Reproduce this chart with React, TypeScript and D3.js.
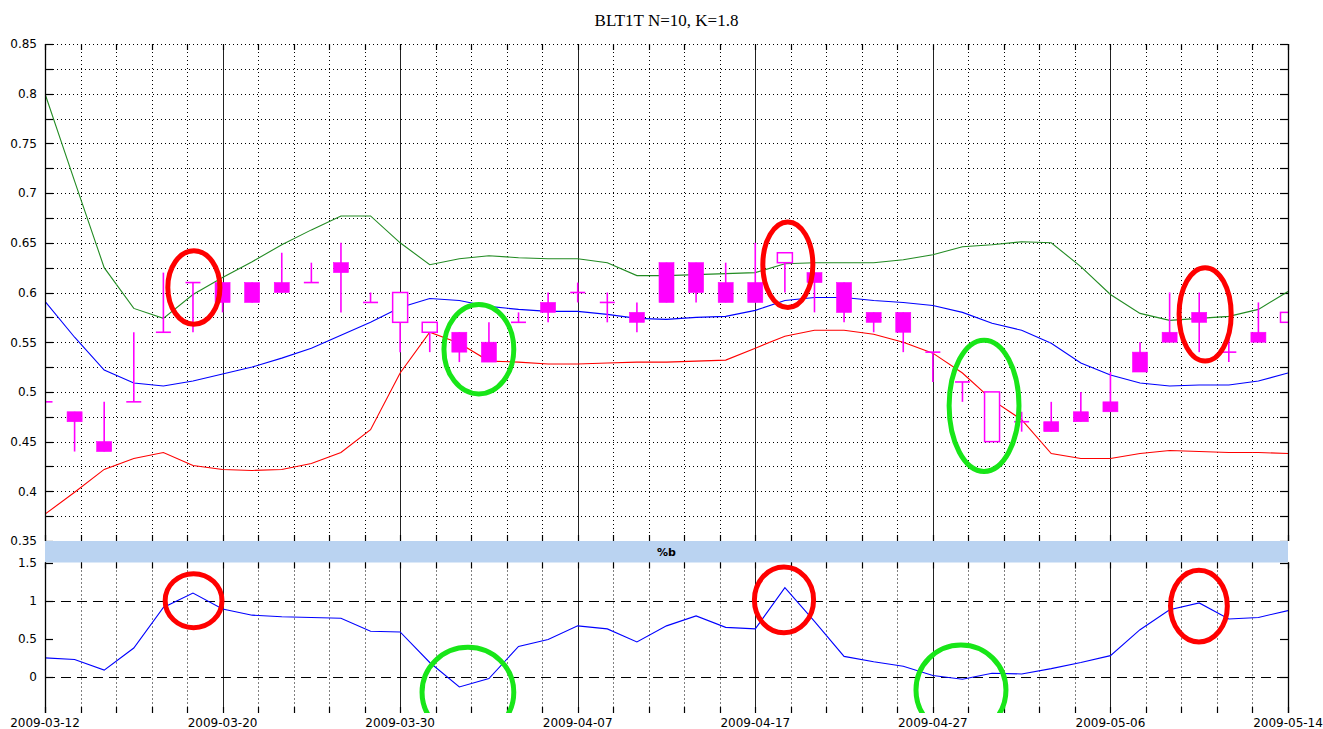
import React from "react";
import * as d3 from "d3";

// ---------- data ----------
const dates = [
  "2009-03-12", "2009-03-13", "2009-03-16", "2009-03-17", "2009-03-18", "2009-03-19", "2009-03-20",
  "2009-03-23", "2009-03-24", "2009-03-25", "2009-03-26", "2009-03-27", "2009-03-30", "2009-03-31",
  "2009-04-01", "2009-04-02", "2009-04-03", "2009-04-06", "2009-04-07", "2009-04-08", "2009-04-09",
  "2009-04-14", "2009-04-15", "2009-04-16", "2009-04-17", "2009-04-20", "2009-04-21", "2009-04-22",
  "2009-04-23", "2009-04-24", "2009-04-27", "2009-04-28", "2009-04-29", "2009-04-30", "2009-05-04",
  "2009-05-05", "2009-05-06", "2009-05-07", "2009-05-08", "2009-05-11", "2009-05-12", "2009-05-13",
  "2009-05-14",
];

const openP = [0.49, 0.48, 0.45, 0.49, 0.56, 0.61, 0.61, 0.61, 0.61, 0.61, 0.63, 0.59, 0.57, 0.56, 0.56, 0.55, 0.57, 0.59, 0.60, 0.59, 0.58, 0.63, 0.63, 0.61, 0.61, 0.63, 0.62, 0.61, 0.58, 0.58, 0.54, 0.51, 0.45, 0.47, 0.47, 0.48, 0.49, 0.54, 0.56, 0.58, 0.54, 0.56, 0.57];
const highP = [0.49, 0.48, 0.49, 0.56, 0.62, 0.61, 0.61, 0.61, 0.64, 0.63, 0.65, 0.60, 0.60, 0.57, 0.56, 0.57, 0.58, 0.60, 0.61, 0.60, 0.59, 0.63, 0.63, 0.63, 0.65, 0.64, 0.62, 0.61, 0.58, 0.58, 0.54, 0.51, 0.50, 0.48, 0.49, 0.50, 0.52, 0.55, 0.60, 0.60, 0.56, 0.59, 0.58];
const lowP = [0.49, 0.44, 0.44, 0.49, 0.56, 0.56, 0.58, 0.59, 0.60, 0.61, 0.58, 0.59, 0.54, 0.54, 0.53, 0.53, 0.57, 0.57, 0.59, 0.57, 0.56, 0.59, 0.59, 0.59, 0.59, 0.60, 0.58, 0.57, 0.56, 0.54, 0.51, 0.49, 0.45, 0.46, 0.46, 0.47, 0.48, 0.52, 0.55, 0.54, 0.53, 0.55, 0.57];
const closeP = [0.49, 0.47, 0.44, 0.49, 0.56, 0.61, 0.59, 0.59, 0.60, 0.61, 0.62, 0.59, 0.60, 0.57, 0.54, 0.53, 0.57, 0.58, 0.60, 0.59, 0.57, 0.59, 0.60, 0.59, 0.59, 0.64, 0.61, 0.58, 0.57, 0.56, 0.54, 0.51, 0.50, 0.47, 0.46, 0.47, 0.48, 0.52, 0.55, 0.57, 0.54, 0.55, 0.58];

const upperBand = [0.80, 0.712, 0.625, 0.584, 0.574, 0.598, 0.615, 0.631, 0.648, 0.663, 0.677, 0.677, 0.650, 0.628, 0.634, 0.637, 0.635, 0.634, 0.634, 0.630, 0.617, 0.617, 0.618, 0.619, 0.620, 0.629, 0.630, 0.630, 0.630, 0.633, 0.638, 0.646, 0.648, 0.651, 0.650, 0.626, 0.598, 0.579, 0.572, 0.574, 0.576, 0.583, 0.601];
const middleBand = [0.591, 0.555, 0.522, 0.509, 0.506, 0.511, 0.518, 0.525, 0.534, 0.544, 0.557, 0.570, 0.585, 0.594, 0.592, 0.586, 0.583, 0.581, 0.581, 0.578, 0.574, 0.573, 0.575, 0.576, 0.582, 0.592, 0.595, 0.595, 0.592, 0.590, 0.587, 0.580, 0.569, 0.562, 0.549, 0.529, 0.517, 0.509, 0.506, 0.507, 0.507, 0.511, 0.519];
const lowerBand = [0.377, 0.399, 0.422, 0.433, 0.439, 0.426, 0.422, 0.421, 0.422, 0.428, 0.439, 0.462, 0.519, 0.560, 0.549, 0.531, 0.530, 0.528, 0.528, 0.529, 0.530, 0.530, 0.531, 0.532, 0.544, 0.556, 0.562, 0.562, 0.558, 0.550, 0.539, 0.519, 0.492, 0.472, 0.438, 0.433, 0.433, 0.438, 0.441, 0.440, 0.439, 0.439, 0.438];

const pctB = [0.25, 0.23, 0.09, 0.38, 0.91, 1.10, 0.89, 0.81, 0.79, 0.78, 0.77, 0.60, 0.59, 0.19, -0.13, -0.02, 0.40, 0.49, 0.67, 0.63, 0.46, 0.67, 0.80, 0.65, 0.63, 1.17, 0.73, 0.27, 0.20, 0.14, 0.02, -0.03, 0.05, 0.04, 0.11, 0.19, 0.28, 0.62, 0.88, 0.97, 0.76, 0.78, 0.87];

const topTickLabels = ["0.35", "0.4", "0.45", "0.5", "0.55", "0.6", "0.65", "0.7", "0.75", "0.8", "0.85"];
const bottomTickLabels = ["0", "0.5", "1", "1.5"];
const bottomRefLines = [0, 1];
const majorDateIdx = [0, 6, 12, 18, 24, 30, 36, 42];

// annotation ellipses (center index, center value, radius in index units, radius in value units)
const annotTopIdx = [5.03, 25.1, 39.2, 14.66, 31.73];
const annotTopVal = [0.605, 0.628, 0.578, 0.543, 0.486];
const annotTopRi = [0.88, 0.845, 0.88, 1.18, 1.18];
const annotTopRv = [0.037, 0.043, 0.047, 0.045, 0.066];
const annotTopKind = ["red", "red", "red", "green", "green"];

const annotBotIdx = [5.02, 24.97, 38.99, 14.29, 30.95];
const annotBotVal = [1.0, 1.01, 0.93, -0.2, -0.17];
const annotBotRi = [0.96, 1.0, 0.96, 1.55, 1.52];
const annotBotRv = [0.354, 0.43, 0.47, 0.59, 0.59];
const annotBotKind = ["red", "red", "red", "green", "green"];

// ---------- component ----------
export default function App() {
  const W = 1323;
  const H = 729;
  const L = 45;
  const R = 1288;
  const topT = 44;
  const topB = 541;
  const bandB = 562.5;
  const botB = 713;

  const n = dates.length;
  const x = d3.scaleLinear().domain([0, n - 1]).range([L, R]);
  const yT = d3.scaleLinear().domain([0.35, 0.85]).range([topB, topT]);
  const yB = d3.scaleLinear().domain([0, 1.5]).range([677, bandB]);

  const crisp = (v: number) => Math.round(v) + 0.5;

  const minorPos = d3.range(0, n - 1 + 1e-6, 1.2);
  const isMajor = (p: number) => Math.abs(p / 6 - Math.round(p / 6)) < 1e-6;
  const topGrid = d3.range(0, 21).map((k) => 0.35 + k * 0.025);
  const topLabelVals = topTickLabels.map((s) => +s);
  const botLabelVals = bottomTickLabels.map((s) => +s);

  const mag = "#ff00ff";
  const bw = 15;
  const font = "'DejaVu Sans', Verdana, sans-serif";

  const lineTop = d3
    .line<number>()
    .x((_, i) => x(i))
    .y((d) => yT(d));
  const lineBot = d3
    .line<number>()
    .x((_, i) => x(i))
    .y((d) => yB(d));

  const annotColor = (k: string) => (k === "red" ? "#ff0000" : "#18e618");

  const dotted = { stroke: "#000", strokeWidth: 1, strokeDasharray: "1 3" };

  return (
    <svg
      width={W}
      height={H}
      viewBox={`0 0 ${W} ${H}`}
      style={{ position: "absolute", left: 0, top: 0, background: "#fff" }}
    >
      <defs>
        <clipPath id="clipTop">
          <rect x={L} y={topT - 1} width={R - L} height={topB - topT + 1} />
        </clipPath>
        <clipPath id="clipBot">
          <rect x={L} y={bandB} width={R - L} height={botB - bandB} />
        </clipPath>
      </defs>
      <rect x={0} y={0} width={W} height={H} fill="#fff" />

      {/* title */}
      <text
        x={(L + R) / 2}
        y={26}
        textAnchor="middle"
        fontFamily="'Liberation Serif', 'Times New Roman', serif"
        fontSize={17}
        fill="#000"
      >
        BLT1T N=10, K=1.8
      </text>

      {/* ===== top panel grid ===== */}
      {topGrid.map((v, k) => (
        <line key={"hg" + k} x1={L} x2={R} y1={crisp(yT(v))} y2={crisp(yT(v))} {...dotted} />
      ))}
      {minorPos.map((p, k) =>
        isMajor(p) ? (
          <line key={"vmT" + k} x1={crisp(x(p))} x2={crisp(x(p))} y1={topT} y2={topB} stroke="#222" strokeWidth={1} />
        ) : (
          <line key={"vdT" + k} x1={crisp(x(p))} x2={crisp(x(p))} y1={topT} y2={topB} {...dotted} />
        )
      )}
      {/* y ticks top panel */}
      {topGrid.map((v, k) => (
        <g key={"yt" + k}>
          <line x1={L} x2={L + 8} y1={crisp(yT(v))} y2={crisp(yT(v))} stroke="#000" strokeWidth={1.2} />
          <line x1={R - 8} x2={R} y1={crisp(yT(v))} y2={crisp(yT(v))} stroke="#000" strokeWidth={1.2} />
        </g>
      ))}
      {/* x ticks top panel */}
      {minorPos.map((p, k) => (
        <g key={"xtT" + k}>
          <line x1={crisp(x(p))} x2={crisp(x(p))} y1={topT} y2={topT + 6} stroke="#000" strokeWidth={1.2} />
          <line x1={crisp(x(p))} x2={crisp(x(p))} y1={topB - 6} y2={topB} stroke="#000" strokeWidth={1.2} />
        </g>
      ))}

      {/* bands + candles */}
      <g clipPath="url(#clipTop)">
        <path d={lineTop(upperBand) || ""} fill="none" stroke="#228b22" strokeWidth={1.1} />
        <path d={lineTop(middleBand) || ""} fill="none" stroke="#0000ff" strokeWidth={1.1} />
        <path d={lineTop(lowerBand) || ""} fill="none" stroke="#ff0000" strokeWidth={1.1} />
        {dates.map((d, i) => {
          const o = openP[i];
          const c = closeP[i];
          const cx = x(i);
          const up = c > o;
          const top = yT(Math.max(o, c));
          const bot = yT(Math.min(o, c));
          return (
            <g key={"c" + d}>
              <line x1={cx} x2={cx} y1={yT(highP[i])} y2={yT(lowP[i])} stroke={mag} strokeWidth={1.6} />
              {o === c ? (
                <line x1={cx - bw / 2} x2={cx + bw / 2} y1={top} y2={top} stroke={mag} strokeWidth={1.6} />
              ) : (
                <rect
                  x={cx - bw / 2}
                  y={top}
                  width={bw}
                  height={bot - top}
                  fill={up ? "#fff" : mag}
                  stroke={mag}
                  strokeWidth={up ? 1.5 : 0.6}
                />
              )}
            </g>
          );
        })}
        {annotTopIdx.map((ci, k) => (
          <ellipse
            key={"at" + k}
            cx={x(ci)}
            cy={yT(annotTopVal[k])}
            rx={x(annotTopRi[k]) - x(0)}
            ry={yT(0.35) - yT(0.35 + annotTopRv[k])}
            fill="none"
            stroke={annotColor(annotTopKind[k])}
            strokeWidth={5}
          />
        ))}
      </g>

      {/* axis lines top */}
      <line x1={crisp(L)} x2={crisp(L)} y1={topT} y2={topB} stroke="#000" strokeWidth={1.3} />
      <line x1={crisp(R)} x2={crisp(R)} y1={topT} y2={topB} stroke="#000" strokeWidth={1.3} />

      {/* y labels top */}
      {topLabelVals.map((v, k) => (
        <text key={"ylT" + k} x={37} y={yT(v)} dy="0.36em" textAnchor="end" fontFamily={font} fontSize={12} fill="#000">
          {topTickLabels[k]}
        </text>
      ))}

      {/* ===== separator band ===== */}
      <rect x={L} y={topB} width={R - L} height={bandB - topB} fill="#bad3f1" />
      <text
        x={(L + R) / 2}
        y={(topB + bandB) / 2}
        dy="0.36em"
        textAnchor="middle"
        fontFamily={font}
        fontSize={11}
        fontWeight="bold"
        fill="#000"
      >
        %b
      </text>

      {/* ===== bottom panel ===== */}
      {minorPos.map((p, k) =>
        isMajor(p) ? (
          <line key={"vmB" + k} x1={crisp(x(p))} x2={crisp(x(p))} y1={bandB} y2={botB} stroke="#222" strokeWidth={1} />
        ) : (
          <line key={"vdB" + k} x1={crisp(x(p))} x2={crisp(x(p))} y1={bandB} y2={botB} {...dotted} />
        )
      )}
      {bottomRefLines.map((v, k) => (
        <line
          key={"ref" + k}
          x1={L}
          x2={R}
          y1={crisp(yB(v))}
          y2={crisp(yB(v))}
          stroke="#000"
          strokeWidth={1.2}
          strokeDasharray="10 6"
        />
      ))}
      {minorPos.map((p, k) => (
        <g key={"xtB" + k}>
          <line x1={crisp(x(p))} x2={crisp(x(p))} y1={bandB} y2={bandB + 6} stroke="#000" strokeWidth={1.2} />
          <line x1={crisp(x(p))} x2={crisp(x(p))} y1={botB - 6} y2={botB} stroke="#000" strokeWidth={1.2} />
        </g>
      ))}
      {botLabelVals.map((v, k) => (
        <g key={"ytB" + k}>
          <line x1={L} x2={L + 8} y1={crisp(yB(v))} y2={crisp(yB(v))} stroke="#000" strokeWidth={1.2} />
          <line x1={R - 8} x2={R} y1={crisp(yB(v))} y2={crisp(yB(v))} stroke="#000" strokeWidth={1.2} />
          <text x={37} y={yB(v)} dy="0.36em" textAnchor="end" fontFamily={font} fontSize={12} fill="#000">
            {bottomTickLabels[k]}
          </text>
        </g>
      ))}
      <g clipPath="url(#clipBot)">
        <path d={lineBot(pctB) || ""} fill="none" stroke="#0000ff" strokeWidth={1.1} />
        {annotBotIdx.map((ci, k) => (
          <ellipse
            key={"ab" + k}
            cx={x(ci)}
            cy={yB(annotBotVal[k])}
            rx={x(annotBotRi[k]) - x(0)}
            ry={yB(0) - yB(annotBotRv[k])}
            fill="none"
            stroke={annotColor(annotBotKind[k])}
            strokeWidth={5}
          />
        ))}
      </g>
      <line x1={crisp(L)} x2={crisp(L)} y1={bandB} y2={botB} stroke="#000" strokeWidth={1.3} />
      <line x1={crisp(R)} x2={crisp(R)} y1={bandB} y2={botB} stroke="#000" strokeWidth={1.3} />

      {/* x labels */}
      {majorDateIdx.map((i) => (
        <text key={"xl" + i} x={x(i)} y={726.5} textAnchor="middle" fontFamily={font} fontSize={12} fill="#000">
          {dates[i]}
        </text>
      ))}
    </svg>
  );
}
